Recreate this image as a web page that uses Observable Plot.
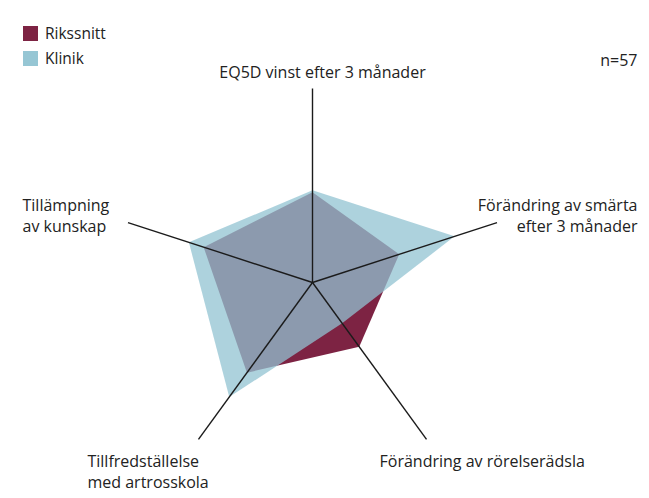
<!DOCTYPE html>
<html>
<head>
<meta charset="utf-8">
<script src="https://cdn.jsdelivr.net/npm/d3@7"></script>
<script src="https://cdn.jsdelivr.net/npm/@observablehq/plot@0.6"></script>
<style>
  html, body { margin: 0; padding: 0; background: #fff; }
  body { width: 649px; height: 498px; position: relative; overflow: hidden; font-family: "Open Sans", sans-serif; color: #222; }
  #legend { position: absolute; left: 23px; top: 21px; font-size: 15.5px; line-height: 25px; }
  #legend .row { display: flex; align-items: center; }
  #legend .sw { width: 15px; height: 15px; margin-right: 7px; display: inline-block; }
  #chart { position: absolute; left: 0; top: 0; }
</style>
</head>
<body>
<div id="chart"></div>
<div id="legend"></div>
<script>
// ---- data ----
const categories = [
  "EQ5D vinst efter 3 månader",
  "Förändring av smärta\nefter 3 månader",
  "Förändring av rörelserädsla",
  "Tillfredställelse\nmed artrosskola",
  "Tillämpning\nav kunskap"
];
const seriesNames = ["Rikssnitt", "Klinik"];
const rikssnitt = [0.465, 0.47, 0.41, 0.575, 0.59];
const klinik = [0.475, 0.77, 0.26, 0.73, 0.67];
const nLabel = "n=57";

// ---- colours ----
const colRiks = "#7d2343";
const colKlinik = "#92c3d2";

const angle = i => (i * 2 * Math.PI) / categories.length;
const pts = (vals, name) => vals.map((v, i) => ({ series: name, i, x: v * Math.sin(angle(i)), y: v * Math.cos(angle(i)) }));
const riksPts = pts(rikssnitt, seriesNames[0]);
const klinikPts = pts(klinik, seriesNames[1]);
const spokes = categories.map((c, i) => ({ c, i, x: Math.sin(angle(i)), y: Math.cos(angle(i)) }));

const W = 649, H = 498, R = 194, cx = 312, cy = 282;

const labelLayout = [
  { dx: 10, dy: -17, textAnchor: "middle" },
  { dx: 140.5, dy: -8, textAnchor: "end" },
  { dx: -47, dy: 20.5, textAnchor: "start" },
  { dx: -111, dy: 31.5, textAnchor: "start" },
  { dx: -105.5, dy: -8, textAnchor: "start" }
];

const font = "Open Sans";
const FS = 16;
const chart = Plot.plot({
  width: W,
  height: H,
  margin: 0,
  style: { fontFamily: font, background: "transparent", overflow: "visible" },
  x: { domain: [-cx / R, (W - cx) / R], range: [0, W], axis: null },
  y: { domain: [(cy - H) / R, cy / R], range: [H, 0], axis: null },
  marks: [
    Plot.line(riksPts, { x: "x", y: "y", curve: "linear-closed", fill: colRiks, stroke: "none" }),
    Plot.line(klinikPts, { x: "x", y: "y", curve: "linear-closed", fill: colKlinik, fillOpacity: 0.75, stroke: "none" }),
    Plot.link(spokes, { x1: 0, y1: 0, x2: "x", y2: "y", stroke: "#1b1b1b", strokeWidth: 1.4 }),
    ...spokes.map((s, k) => Plot.text([s], {
      x: "x", y: "y", text: "c",
      dx: labelLayout[k].dx, dy: labelLayout[k].dy,
      textAnchor: labelLayout[k].textAnchor,
      lineAnchor: "middle", lineHeight: 1.32,
      fontSize: FS, fill: "#222"
    })),
    Plot.text([nLabel], { frameAnchor: "top-right", text: d => d, dx: -12, dy: 60, lineAnchor: "middle", textAnchor: "end", fontSize: FS, fill: "#222" })
  ]
});
document.getElementById("chart").appendChild(chart);

// legend
const legend = document.getElementById("legend");
[[seriesNames[0], colRiks], [seriesNames[1], "#96c6d4"]].forEach(([name, col]) => {
  const row = document.createElement("div");
  row.className = "row";
  const sw = document.createElement("span");
  sw.className = "sw";
  sw.style.background = col;
  row.appendChild(sw);
  row.appendChild(document.createTextNode(name));
  legend.appendChild(row);
});
</script>
</body>
</html>
